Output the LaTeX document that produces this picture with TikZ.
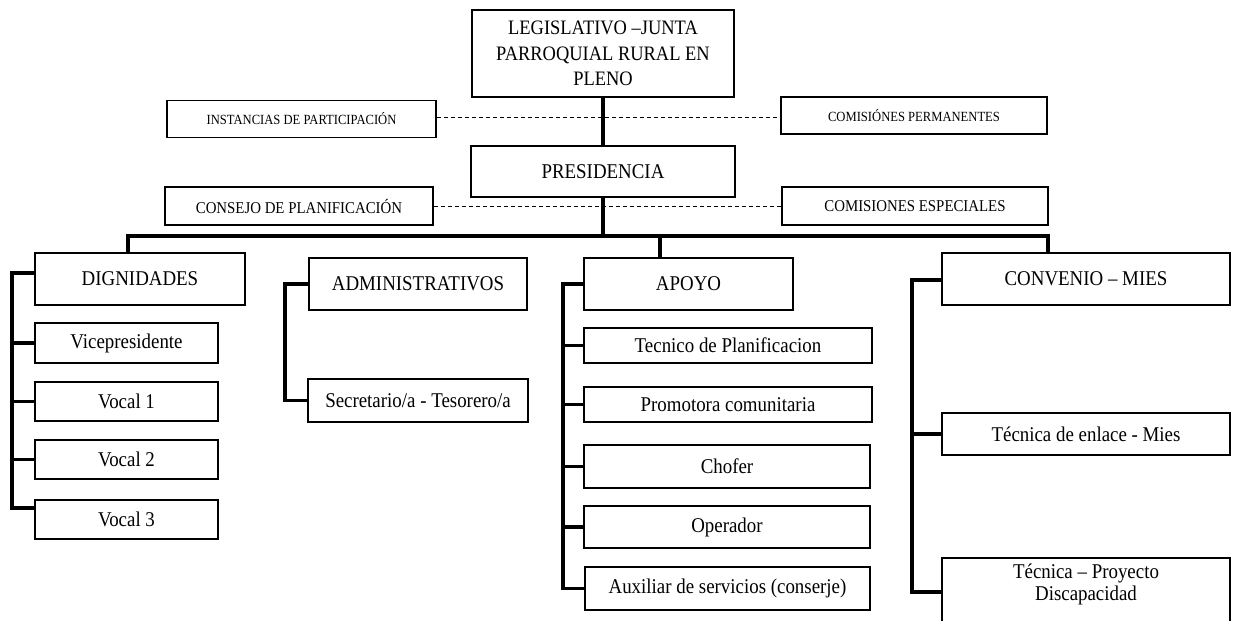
\documentclass[tikz,border=0pt]{standalone}
\usepackage{fontspec}
\setmainfont{Liberation Serif}[FakeStretch=0.9]
\begin{document}
\begin{tikzpicture}[x=1pt,y=-1pt,
  box/.style={draw,line width=1.8pt,fill=white,inner sep=0pt,align=center,
    font=\fontsize{21}{25}\selectfont},
  topbox/.style={box,font=\fontsize{20.5}{25.5}\selectfont},
  smallbox/.style={box,font=\fontsize{14}{16}\selectfont},
  midbox/.style={box,font=\fontsize{16.5}{19}\selectfont},
  conn/.style={line width=3.5pt,line join=miter},
  dotline/.style={line width=1pt,dash pattern=on 4pt off 3pt}]
\clip (0,0) rectangle (1235,621);
\fill[white] (0,0) rectangle (1235,621);
% top
\node[topbox,minimum width=262pt,minimum height=87pt] (leg) at (603,53.5) {LEGISLATIVO –JUNTA\\PARROQUIAL RURAL EN\\PLENO};
\node[box,minimum width=264pt,minimum height=51pt] (pres) at (603,171.5) {PRESIDENCIA};
\node[smallbox,minimum width=269pt,minimum height=37pt] (inst) at (301.5,119) {INSTANCIAS DE PARTICIPACIÓN};
\node[smallbox,minimum width=266pt,minimum height=37pt] (perm) at (914,115.5) {COMISIÓNES PERMANENTES};
\node[midbox,minimum width=268pt,minimum height=38pt] (cons) at (299,206) {CONSEJO DE PLANIFICACIÓN};
\node[midbox,minimum width=266pt,minimum height=38pt] (esp) at (915,206) {COMISIONES ESPECIALES};
% dignidades
\node[box,minimum width=210pt,minimum height=52pt] (dig) at (140,279) {DIGNIDADES};
\node[box,minimum width=183pt,minimum height=40pt] (vice) at (126.5,343) {Vicepresidente};
\node[box,minimum width=183pt,minimum height=39pt] (v1) at (126.5,401.5) {Vocal 1};
\node[box,minimum width=183pt,minimum height=39pt] (v2) at (126.5,459.5) {Vocal 2};
\node[box,minimum width=183pt,minimum height=39pt] (v3) at (126.5,519.5) {Vocal 3};
% administrativos
\node[box,minimum width=218pt,minimum height=52pt] (adm) at (418,284) {ADMINISTRATIVOS};
\node[box,minimum width=220pt,minimum height=43pt] (sec) at (418,400.5) {Secretario/a - Tesorero/a};
% apoyo
\node[box,minimum width=209pt,minimum height=52pt] (apoyo) at (688.5,284) {APOYO};
\node[box,minimum width=288pt,minimum height=35pt] (tec) at (728,345.5) {Tecnico de Planificacion};
\node[box,minimum width=288pt,minimum height=35pt] (prom) at (728,404.5) {Promotora comunitaria};
\node[box,minimum width=286pt,minimum height=43pt] (chof) at (727,466.5) {Chofer};
\node[box,minimum width=286pt,minimum height=42pt] (oper) at (727,527) {Operador};
\node[box,minimum width=285pt,minimum height=43pt] (aux) at (727.5,588.5) {Auxiliar de servicios (conserje)};
% convenio
\node[box,minimum width=288pt,minimum height=52pt] (conv) at (1086,279) {CONVENIO – MIES};
\node[box,minimum width=288pt,minimum height=42pt] (enl) at (1086,434) {Técnica de enlace - Mies};
\coordinate (proy) at (1086,584);
\draw[line width=1.8pt,fill=white] ([shift={(-144pt,26pt)}]proy) rectangle ([shift={(144pt,-60pt)}]proy);
\node[inner sep=0pt,align=center,font=\fontsize{21}{22}\selectfont] at (proy) {Técnica – Proyecto\\Discapacidad};
% coordinates
\coordinate (bL) at (128,236);
\coordinate (bR) at (1048,236);
\coordinate (bA) at (660,236);
\coordinate (dTop) at (12,273);
\coordinate (dBot) at (12,508);
\coordinate (aS) at (285,0);
\coordinate (pS) at (563,0);
\coordinate (cTop) at (912,280);
\coordinate (cBot) at (912,592);
\coordinate (proyW) at (942,592);
% dashed
\coordinate (d1) at (0,117);
\draw[dotline] (inst.east |- d1) -- (perm.west |- d1);
\draw[dotline] (cons.east) -- (esp.west);
% main
\draw[conn] (leg.south) -- (pres.north);
\draw[conn] (pres.south) -- (pres.south |- bL);
\draw[conn] (dig.north -| bL) -- (bL) -- (bR) -- (conv.north -| bR);
\draw[conn] (bA) -- (apoyo.north -| bA);
% dignidades spine
\draw[conn] (dig.west |- dTop) -- (dTop) -- (dBot) -- (v3.west |- dBot);
\draw[conn] (vice.west) -- (vice.west -| dTop);
\draw[conn] (v1.west) -- (v1.west -| dTop);
\draw[conn] (v2.west) -- (v2.west -| dTop);
% administrativos spine
\draw[conn] (adm.west) -- (adm.west -| aS) -- (sec.west -| aS) -- (sec.west);
% apoyo spine
\draw[conn] (apoyo.west) -- (apoyo.west -| pS) -- (aux.west -| pS) -- (aux.west);
\draw[conn] (tec.west) -- (tec.west -| pS);
\draw[conn] (prom.west) -- (prom.west -| pS);
\draw[conn] (chof.west) -- (chof.west -| pS);
\draw[conn] (oper.west) -- (oper.west -| pS);
% convenio spine
\draw[conn] (conv.west |- cTop) -- (cTop) -- (cBot) -- (proyW);
\draw[conn] (enl.west) -- (enl.west -| cTop);
\end{tikzpicture}
\end{document}
